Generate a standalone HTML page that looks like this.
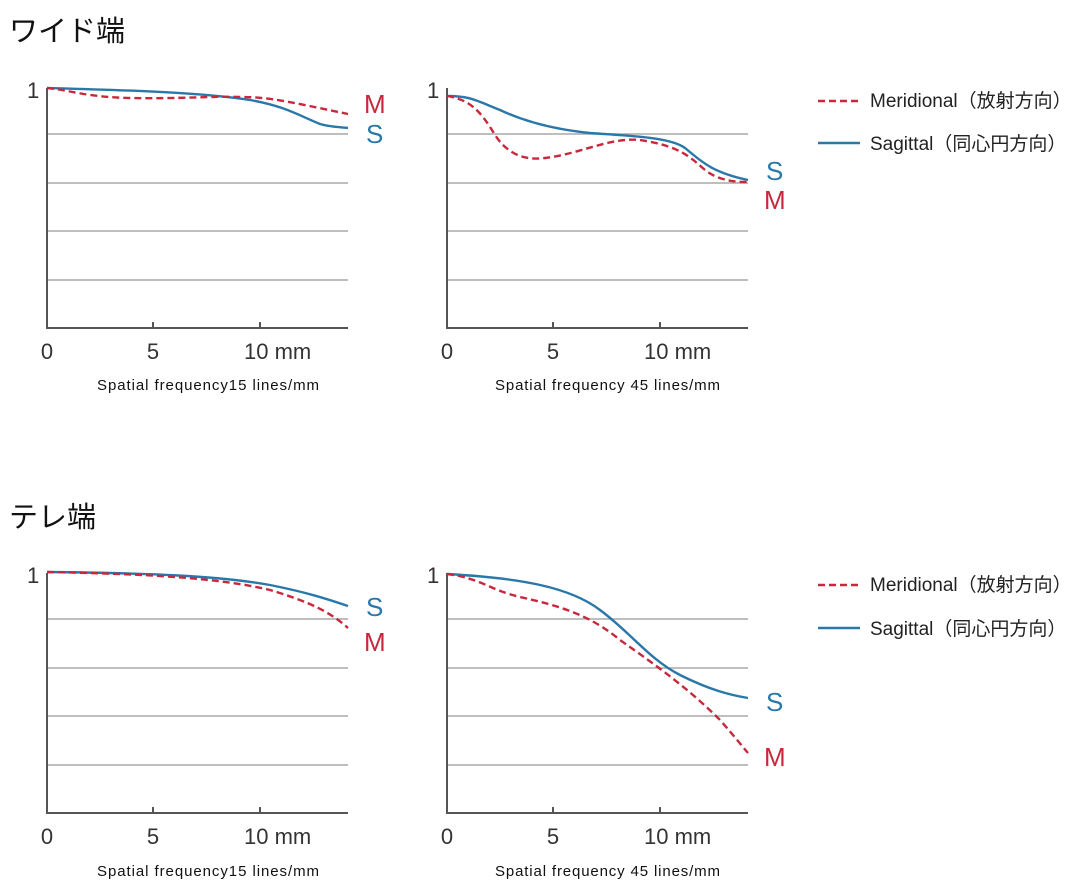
<!DOCTYPE html>
<html><head><meta charset="utf-8"><style>
body{margin:0;background:#fff}
svg{display:block}
text{font-family:"Liberation Sans","Noto Sans CJK JP",sans-serif}
</style></head><body>
<svg width="1088" height="891" viewBox="0 0 1088 891" xmlns="http://www.w3.org/2000/svg">
<defs>
<g id="axes">
  <g stroke="#a8a8a8" stroke-width="1.6">
    <line x1="47" y1="46" x2="348" y2="46"/>
    <line x1="47" y1="95" x2="348" y2="95"/>
    <line x1="47" y1="143" x2="348" y2="143"/>
    <line x1="47" y1="192" x2="348" y2="192"/>
  </g>
  <g stroke="#555" stroke-width="2">
    <line x1="47" y1="0" x2="47" y2="241"/>
    <line x1="46" y1="240" x2="348" y2="240"/>
    <line x1="153" y1="234" x2="153" y2="240"/>
    <line x1="260" y1="234" x2="260" y2="240"/>
  </g>
  <g fill="#333" font-size="22">
    <text x="27" y="10">1</text>
    <text x="47" y="271" text-anchor="middle">0</text>
    <text x="153" y="271" text-anchor="middle">5</text>
    <text x="244" y="271">10 mm</text>
  </g>
</g>
</defs>
<text x="9" y="41" font-size="29" fill="#111">ワイド端</text>
<text x="9" y="527" font-size="29" fill="#111">テレ端</text>

<use href="#axes" transform="translate(0,88)"/>
<use href="#axes" transform="translate(400,88)"/>
<use href="#axes" transform="translate(0,573)"/>
<use href="#axes" transform="translate(400,573)"/>

<g font-size="15" fill="#111">
<text x="97" y="390" textLength="222" lengthAdjust="spacing">Spatial frequency15 lines/mm</text>
<text x="495" y="390" textLength="225" lengthAdjust="spacing">Spatial frequency 45 lines/mm</text>
<text x="97" y="876" textLength="222" lengthAdjust="spacing">Spatial frequency15 lines/mm</text>
<text x="495" y="876" textLength="225" lengthAdjust="spacing">Spatial frequency 45 lines/mm</text>
</g>

<g fill="none" stroke-width="2.4">
<path stroke="#2a78aa" d="M47,88 C120,90 200,92 250,100 C285,106 300,116 320,124 C330,127 340,127 348,128"/>
<path stroke="#c8283c" stroke-dasharray="7,4" d="M47,88 C70,90 85,97 130,98 C180,99 210,96 240,97 C270,97 290,102 348,114"/>
<path stroke="#2a78aa" d="M447,96 C470,96 475,100 500,110 C530,124 560,130 590,133 C630,136 670,137 685,148 C700,160 710,172 748,180"/>
<path stroke="#c8283c" stroke-dasharray="7,4" d="M447,96 C470,100 480,110 495,135 C510,158 530,160 545,158 C580,154 610,137 640,140 C680,146 690,157 705,170 C720,182 740,182 748,182"/>
<path stroke="#2a78aa" d="M47,572 C150,573 220,576 270,585 C310,593 330,600 348,606"/>
<path stroke="#c8283c" stroke-dasharray="7,4" d="M47,572 C150,574 220,578 270,590 C310,602 330,612 348,628"/>
<path stroke="#2a78aa" d="M447,574 C520,578 570,587 600,610 C630,632 650,660 680,675 C710,690 730,695 748,698"/>
<path stroke="#c8283c" stroke-dasharray="7,4" d="M447,574 C480,578 490,590 520,597 C560,606 590,615 620,640 C660,668 690,690 720,720 C735,737 742,746 748,753"/>
</g>

<g font-size="26">
<text x="364" y="113" fill="#c8283c">M</text>
<text x="366" y="143" fill="#2a78aa">S</text>
<text x="766" y="180" fill="#2a78aa">S</text>
<text x="764" y="209" fill="#c8283c">M</text>
<text x="366" y="616" fill="#2a78aa">S</text>
<text x="364" y="651" fill="#c8283c">M</text>
<text x="766" y="711" fill="#2a78aa">S</text>
<text x="764" y="766" fill="#c8283c">M</text>
</g>

<g font-size="19" fill="#222">
<line x1="818" y1="101" x2="860" y2="101" stroke="#c8283c" stroke-width="2.4" stroke-dasharray="7,4"/>
<text x="870" y="107">Meridional（放射方向）</text>
<line x1="818" y1="143" x2="860" y2="143" stroke="#2a78aa" stroke-width="2.4"/>
<text x="870" y="150">Sagittal（同心円方向）</text>
<line x1="818" y1="585" x2="860" y2="585" stroke="#c8283c" stroke-width="2.4" stroke-dasharray="7,4"/>
<text x="870" y="591">Meridional（放射方向）</text>
<line x1="818" y1="628" x2="860" y2="628" stroke="#2a78aa" stroke-width="2.4"/>
<text x="870" y="635">Sagittal（同心円方向）</text>
</g>
</svg>
</body></html>
